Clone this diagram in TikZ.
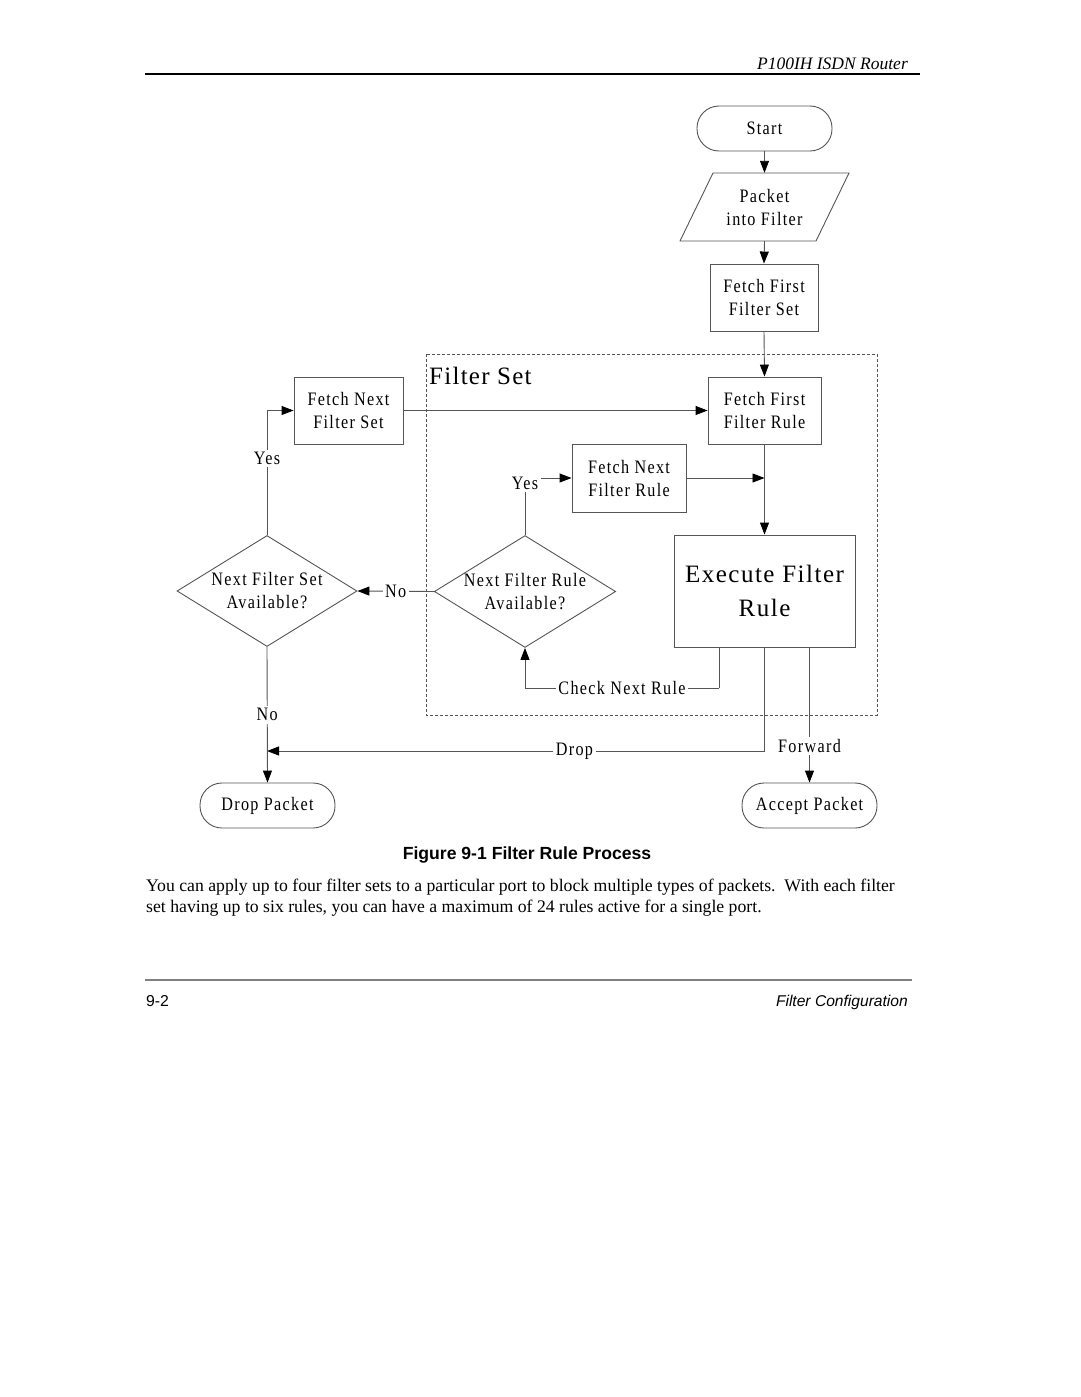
\documentclass[tikz,border=0pt]{standalone}
\usepackage{fontspec}
\setmainfont{Liberation Serif}
\newfontfamily\dfont[FakeStretch=0.85,LetterSpace=7]{Liberation Serif}
\newfontfamily\bfont[LetterSpace=6]{Liberation Serif}
\newfontfamily\tfont[LetterSpace=5]{Liberation Serif}
\newfontfamily\sfont{Liberation Sans}
\usetikzlibrary{arrows.meta,shapes.geometric}
\definecolor{ln}{RGB}{85,85,85}
\tikzset{
  every node/.style={inner sep=0pt},
  dtext/.style={font=\dfont\fontsize{19}{23}\selectfont, align=center, text=black},
  box/.style={dtext, draw=ln, line width=0.9pt, rectangle},
  term/.style={dtext, draw=ln, line width=0.9pt, rectangle, rounded corners=22pt, minimum width=135pt, minimum height=45pt},
  dec/.style={dtext, draw=ln, line width=0.9pt, diamond, aspect=1.62, minimum width=180pt, minimum height=111pt},
  conn/.style={draw=ln, line width=0.9pt},
  arr/.style={conn, -{Triangle[length=12pt,width=9pt,fill=black,color=black]}},
  lbl/.style={dtext, fill=white, inner sep=2.5pt}
}
\begin{document}
\begin{tikzpicture}[x=1pt,y=-1pt]
\useasboundingbox (0,0) rectangle (1080,1397);
\fill[white] (0,0) rectangle (1080,1397);

% header
\draw[line width=1.6pt] (145,74) -- (920,74);
\node[anchor=base east, font=\itshape\fontsize{17.5}{20}\selectfont] (hdr) at (908,70) {P100IH ISDN Router};

% filter set frame
\draw[ln, line width=0.7pt, dash pattern=on 3pt off 2pt] (426,354) rectangle (877,715);
\node[anchor=base west, font=\tfont\fontsize{25}{28}\selectfont] (fstitle) at (429,384) {Filter Set};

% nodes
\node[term] (start) at (764.5,128.5) {Start};
\node[dtext, minimum width=136pt, minimum height=68pt] (pk) at (764.5,207) {Packet\\into Filter};
\draw[ln, line width=0.9pt] (713,173) -- (849,173) -- (816,241) -- (680,241) -- cycle;
\node[box, minimum width=108pt, minimum height=67pt] (ffs) at (764,297.5) {Fetch First\\Filter Set};
\node[box, minimum width=113pt, minimum height=67pt] (ffr) at (764.5,410.5) {Fetch First\\Filter Rule};
\node[box, minimum width=109pt, minimum height=67pt] (fns) at (348.5,410.5) {Fetch Next\\Filter Set};
\node[box, minimum width=114pt, minimum height=68pt] (fnr) at (629,478) {Fetch Next\\Filter Rule};
\node[box, minimum width=181pt, minimum height=112pt, font=\bfont\fontsize{25}{34}\selectfont] (exe) at (764.5,591) {Execute Filter\\Rule};
\node[dec] (dr) at (525,591.5) {Next Filter Rule\\Available?};
\node[dec] (ds) at (267,591) {Next Filter Set\\Available?};
\node[term] (drop) at (267.5,805.5) {Drop Packet};
\node[term] (acc) at (809.5,805.5) {Accept Packet};

% helper coordinates
\coordinate (j1) at (764.5,478);
\coordinate (cn) at (719,688);
\coordinate (dj) at (267,751);

% connectors
\draw[arr] (start.south) -- (pk.north);
\draw[arr] (pk.south) -- (ffs.north);
\draw[arr] (ffs.south) -- (ffr.north);
\draw[arr] (fns.east) -- (ffr.west);
\draw[arr] (ffr.south) -- (exe.north);
\draw[arr] (fnr.east) -- (j1);
\draw[arr] (dr.north) |- node[lbl, pos=0.5, yshift=-5pt, xshift=0pt] {Yes} (fnr.west);
\draw[arr] (ds.north) |- node[lbl, pos=0.308] {Yes} (fns.west);
\draw[arr] (dr.west) -- node[lbl] {No} (ds.east);
\draw[conn] ([xshift=-45.5pt]exe.south) -- (cn);
\draw[arr] (cn) -| node[lbl, pos=0.25] {Check Next Rule} (dr.south);
\draw[arr] (exe.south) |- node[lbl, pos=0.691] {Drop} (dj);
\draw[arr] (ds.south) -- node[lbl, pos=0.5] {No} (drop.north);
\draw[arr] ([xshift=45pt]exe.south) -- node[lbl, pos=0.73] {Forward} (acc.north);

% caption and text
\node[font=\sfont\bfseries\fontsize{17.6}{20}\selectfont] (cap) at (527,855) {Figure 9-1 Filter Rule Process};
\node[anchor=base west, font=\fontsize{17.7}{21}\selectfont] (p1) at (146,891) {You can apply up to four filter sets to a particular port to block multiple types of packets.\ \ With each filter};
\node[anchor=base west, font=\fontsize{17.7}{21}\selectfont] (p2) at (146,912) {set having up to six rules, you can have a maximum of 24 rules active for a single port.};

% footer
\draw[color=gray, line width=1.6pt] (145,980) -- (912,980);
\node[anchor=base west, font=\sfont\fontsize{15.8}{18}\selectfont] (pg) at (146,1006) {9-2};
\node[anchor=base east, font=\sfont\itshape\fontsize{15.6}{18}\selectfont] (ft) at (908,1006) {Filter Configuration};
\end{tikzpicture}
\end{document}
